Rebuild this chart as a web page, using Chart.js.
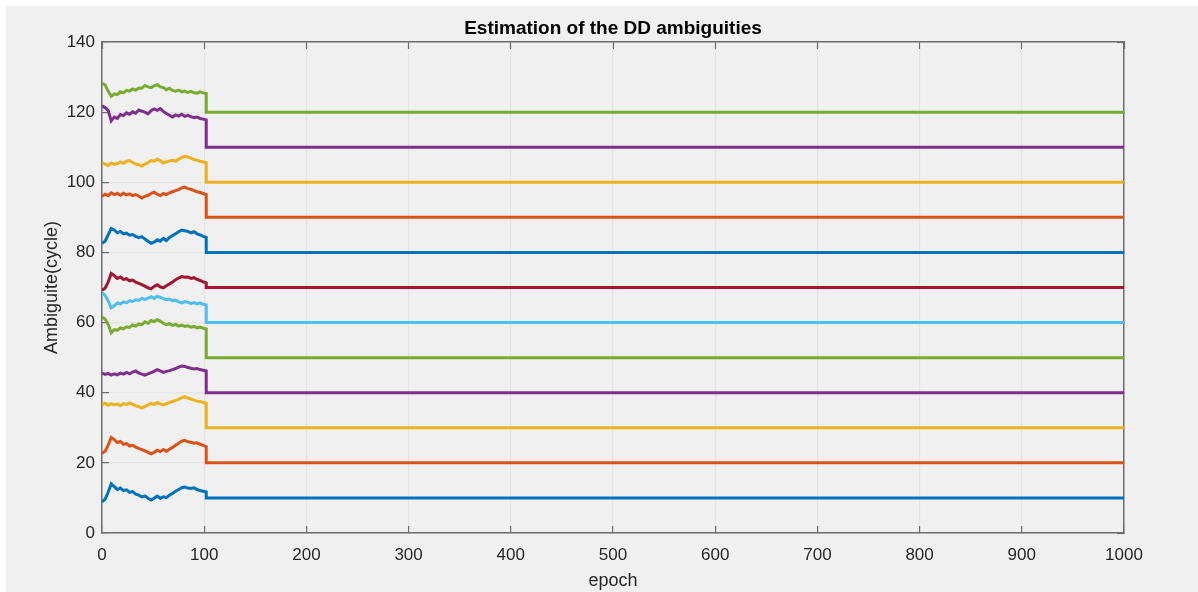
<!DOCTYPE html>
<html>
<head>
<meta charset="utf-8">
<title>Estimation of the DD ambiguities</title>
<script src="https://cdn.jsdelivr.net/npm/chart.js@4.4.1/dist/chart.umd.min.js"></script>
<style>
	body { margin: 0; background: #ffffff; }
	#panel { position: absolute; left: 6px; top: 6px; width: 1192px; height: 586px; background: #f0f0f0; }
</style>
</head>
<body>
<div id="panel"><canvas id="ambGraph" width="1192" height="586"></canvas></div>
<script>
// epochs of the float (noisy) part, then every series fixes at its integer value
var epochs = [0,3,6,9,12,15,18,21,24,27,30,33,36,39,42,45,48,51,54,57,60,63,66,69,72,75,78,81,84,87,90,93,96,99,102];
var fixEpoch = 102;
var lastEpoch = 1000;

var amb10 = [8.9,9.6,11.6,14.0,13.2,12.4,12.8,12.1,12.3,11.6,11.8,11.1,10.8,10.3,10.6,9.9,9.4,9.9,10.5,9.9,10.3,10.1,10.8,11.3,11.9,12.4,12.9,13.1,12.8,12.7,12.9,12.4,12.1,11.9,11.7];
var amb20 = [22.7,23.3,25.0,27.2,26.6,25.8,26.1,25.3,25.5,24.8,25.0,24.5,24.1,23.8,23.4,23.0,22.6,23.0,23.6,23.2,23.8,23.3,23.9,24.4,25.0,25.6,26.2,26.4,26.0,25.9,25.6,25.7,25.3,25.0,24.6];
var amb30 = [36.5,37.0,36.4,36.9,36.5,36.8,36.3,36.9,36.6,37.1,36.7,36.3,36.0,35.6,36.1,36.5,37.0,36.6,37.2,36.8,36.5,36.9,37.2,37.5,37.8,38.1,38.6,38.8,38.5,38.2,37.9,37.6,37.5,37.2,37.0];
var amb40 = [45.6,45.2,45.5,45.0,45.4,45.1,45.6,45.3,45.8,45.4,45.9,46.2,45.6,45.3,45.0,45.4,45.7,46.1,46.6,46.2,45.8,46.1,46.3,46.6,46.9,47.3,47.6,47.5,47.2,47.0,46.8,46.9,46.6,46.4,46.2];
var amb50 = [61.6,61.0,59.5,57.1,58.0,57.8,58.5,58.2,58.8,58.6,59.3,59.0,59.6,59.4,60.2,59.8,60.6,60.3,60.8,60.4,59.8,59.4,59.7,59.2,59.5,59.0,59.3,58.9,59.1,58.7,58.9,58.5,58.7,58.4,58.2];
var amb60 = [68.5,67.8,66.2,64.2,64.8,65.6,65.3,65.9,65.6,66.2,66.0,66.5,66.3,66.9,66.6,67.0,67.4,66.9,67.5,67.2,66.8,66.5,66.7,66.2,66.4,65.9,65.6,66.0,65.8,65.4,65.7,65.3,65.6,65.2,65.0];
var amb70 = [69.2,69.8,71.5,74.0,73.4,72.6,73.0,72.3,72.5,71.9,72.1,71.5,71.2,70.8,70.4,69.9,69.6,70.3,70.8,70.2,69.9,70.5,71.0,71.6,72.2,72.7,73.1,72.9,73.0,72.6,72.8,72.3,72.0,71.6,71.3];
var amb80 = [82.6,83.2,85.0,86.8,86.4,85.6,86.0,85.3,85.5,84.9,85.1,84.6,84.2,84.5,83.8,83.2,82.6,82.9,83.6,83.2,84.0,83.4,84.3,84.8,85.3,85.9,86.4,86.2,86.0,85.6,85.9,85.3,85.0,84.6,84.3];
var amb90 = [96.0,96.6,96.2,97.0,96.5,96.8,96.3,96.9,96.4,96.7,96.2,96.5,96.0,95.5,96.0,96.3,96.8,97.2,96.6,96.2,96.8,96.5,97.0,97.3,97.6,97.9,98.4,98.6,98.2,98.0,97.6,97.3,97.1,96.8,96.5];
var amb100 = [105.6,105.2,104.8,105.5,105.1,105.3,105.8,105.4,106.0,106.2,105.6,105.2,105.0,104.6,105.2,105.6,106.2,106.0,106.6,106.2,105.5,105.8,106.1,106.3,106.0,106.6,107.0,107.4,107.2,106.9,106.5,106.3,106.0,105.8,105.6];
var amb110 = [121.8,121.3,120.5,117.5,118.6,118.2,119.3,119.0,119.8,119.4,120.1,119.7,120.6,120.3,120.0,119.5,120.4,120.9,120.5,121.0,120.2,119.6,119.1,118.6,119.2,118.9,119.4,118.8,119.1,118.7,118.4,118.6,118.2,118.0,117.8];
var amb120 = [128.2,127.8,126.0,124.5,125.2,125.0,125.8,125.5,126.2,126.0,126.6,126.3,126.9,126.8,127.6,127.2,127.0,127.5,127.8,127.2,127.0,126.4,126.8,126.2,126.0,126.3,125.8,126.0,125.6,125.9,125.5,125.4,125.8,125.5,125.3];

var floatSeries = [amb10, amb20, amb30, amb40, amb50, amb60, amb70, amb80, amb90, amb100, amb110, amb120];
var fixedValues = [10, 20, 30, 40, 50, 60, 70, 80, 90, 100, 110, 120];
var lineColor = ["#0072BD", "#D95319", "#EDB120", "#7E2F8E", "#77AC30", "#4DBEEE", "#A2142F", "#0072BD", "#D95319", "#EDB120", "#7E2F8E", "#77AC30"];

var xTicks = [0,100,200,300,400,500,600,700,800,900,1000];
var yTicks = [0,20,40,60,80,100,120,140];

function buildDatasets(){
	var sets = [];
	for (var i=0; i<floatSeries.length; i++){
		var pts = [];
		for (var j=0; j<epochs.length; j++){
			pts.push({x: epochs[j], y: floatSeries[i][j]});
		}
		pts.push({x: fixEpoch, y: fixedValues[i]});
		pts.push({x: lastEpoch, y: fixedValues[i]});
		sets.push({
			label: "DD " + (i+1),
			data: pts,
			borderColor: lineColor[i],
			borderWidth: 3,
			pointRadius: 0,
			tension: 0,
			fill: false
		});
	}
	return sets;
}

var axisColor = "#6e6e6e";
var gridColor = "#e4e4e4";
var textColor = "#262626";
var fontName = "Liberation Sans, Arial, sans-serif";

function tickValues(list){
	return function(scale){
		scale.ticks = list.map(function(v){ return {value: v}; });
	};
}

function plainLabel(value){
	return String(value);
}

new Chart(document.getElementById("ambGraph"), {
	type: "line",
	data: { datasets: buildDatasets() },
	options: {
		responsive: false,
		animation: false,
		layout: { padding: { left: 0, right: 74, top: 0, bottom: 0 } },
		plugins: {
			legend: { display: false },
			tooltip: { enabled: false },
			title: {
				display: true,
				fullSize: false,
				text: "Estimation of the DD ambiguities",
				color: "#000000",
				font: { family: fontName, size: 19, weight: "bold", lineHeight: 1.2 },
				padding: { top: 11, bottom: 2.2 }
			}
		},
		scales: {
			x: {
				type: "linear",
				position: "bottom",
				min: 0, max: 1000,
				afterBuildTicks: tickValues(xTicks),
				border: { display: true, color: axisColor, width: 1.5 },
				grid: { color: gridColor, lineWidth: 1.2, tickColor: axisColor, tickLength: -7, tickWidth: 1.2 },
				ticks: { color: textColor, padding: 19, maxRotation: 0, callback: plainLabel, font: { family: fontName, size: 17 } },
				title: { display: true, text: "epoch", color: textColor, padding: { top: 0, bottom: 0 }, font: { family: fontName, size: 18 } },
				afterFit: function(scale){ scale.height = 59; }
			},
			xTop: {
				type: "linear",
				position: "top",
				min: 0, max: 1000,
				afterBuildTicks: tickValues(xTicks),
				border: { display: true, color: axisColor, width: 1.5 },
				grid: { drawOnChartArea: false, tickColor: axisColor, tickLength: -7, tickWidth: 1.2 },
				ticks: { display: false },
				afterFit: function(scale){ scale.height = 0; }
			},
			y: {
				type: "linear",
				position: "left",
				min: 0, max: 140,
				afterBuildTicks: tickValues(yTicks),
				border: { display: true, color: axisColor, width: 1.5 },
				grid: { color: gridColor, lineWidth: 1.2, tickColor: axisColor, tickLength: -7, tickWidth: 1.2 },
				ticks: { color: textColor, padding: 14, callback: plainLabel, font: { family: fontName, size: 17 } },
				title: { display: true, text: "Ambiguite(cycle)", color: textColor, padding: { top: 35, bottom: 0 }, font: { family: fontName, size: 18 } },
				afterFit: function(scale){ scale.width = 96; }
			},
			yRight: {
				type: "linear",
				position: "right",
				min: 0, max: 140,
				afterBuildTicks: tickValues(yTicks),
				border: { display: true, color: axisColor, width: 1.5 },
				grid: { drawOnChartArea: false, tickColor: axisColor, tickLength: -7, tickWidth: 1.2 },
				ticks: { display: false },
				afterFit: function(scale){ scale.width = 0; }
			}
		}
	}
});
</script>
</body>
</html>
